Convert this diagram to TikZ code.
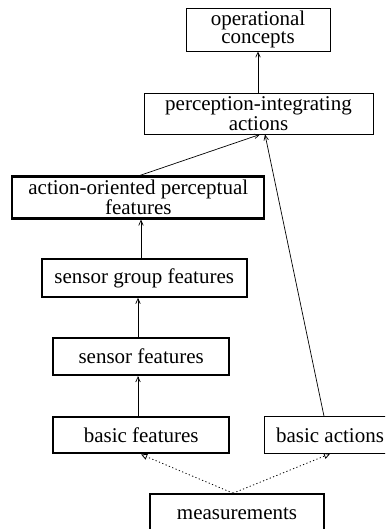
\documentclass[tikz,border=0pt]{standalone}
\usepackage{fontspec}
\setmainfont{Liberation Serif}
\usetikzlibrary{arrows.meta}

\tikzset{
  thinbox/.style={draw, line width=0.9pt, inner sep=0pt, align=center,
    font=\fontsize{21}{17.5}\selectfont},
  thickbox/.style={thinbox, line width=2.2pt},
  uparrow/.style={line width=0.7pt, -{Straight Barb[length=5pt,width=4.5pt]}},
  dotarrow/.style={line width=0.8pt, dash pattern=on 1.2pt off 2.4pt,
    -{Triangle[open,length=6pt,width=6pt]}}
}

\begin{document}
\begin{tikzpicture}[x=1pt, y=-1pt]
% Set the page size
\useasboundingbox (0, 0) rectangle (385, 529);
\clip (0, 0) rectangle (385, 529);

% Draw the boxes
\node[thinbox, minimum width=144, minimum height=43] (concepts) at (258, 29.5) {operational\\concepts};
\node[thinbox, minimum width=229, minimum height=41] (integrating) at (258.5, 113.5) {perception-integrating\\actions};
\node[thickbox, minimum width=252, minimum height=42] (perceptual) at (138.3, 197.5) {action-oriented perceptual\\features};
\node[thickbox, minimum width=205, minimum height=37.5] (group) at (144.2, 278) {sensor group features};
\node[thickbox, minimum width=175.7, minimum height=36.7] (sensor) at (141.2, 356.7) {sensor features};
\node[thickbox, minimum width=175.7, minimum height=36.7] (basicf) at (141.2, 435) {basic features};
\node[thinbox, minimum width=132, minimum height=36.7] (basica) at (330, 435) {basic actions};
\node[thickbox, minimum width=174, minimum height=38] (measure) at (237, 513.3) {measurements};

% Draw the arrows
\draw[uparrow] (integrating.north -| concepts.south) -- (concepts.south);
\draw[uparrow] ([xshift=1.7pt]perceptual.north) -- ([xshift=1.5pt]integrating.south);
\draw[uparrow] ([xshift=-6pt]basica.north) -- ([xshift=6.5pt]integrating.south);
\draw[uparrow] ([xshift=-3.2pt]group.north) -- ([xshift=-3.2pt]group.north |- perceptual.south);
\draw[uparrow] ([xshift=-3.2pt]sensor.north) -- ([xshift=-3.2pt]sensor.north |- group.south);
\draw[uparrow] ([xshift=-3.2pt]basicf.north) -- ([xshift=-3.2pt]basicf.north |- sensor.south);
\draw[dotarrow] ([xshift=-4pt]measure.north) -- (basicf.south);
\draw[dotarrow] ([xshift=-4pt]measure.north) -- (basica.south);
\end{tikzpicture}
\end{document}
